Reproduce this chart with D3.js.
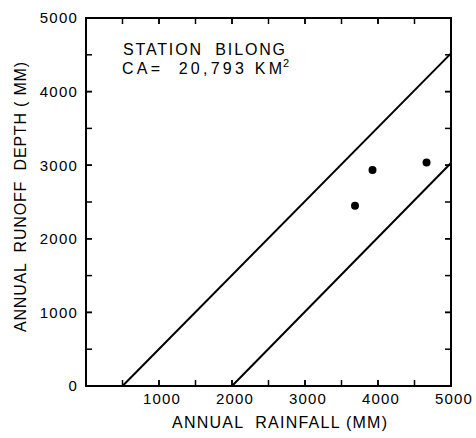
<!DOCTYPE html>
<html>
<head>
<meta charset="utf-8">
<script src="https://cdn.jsdelivr.net/npm/d3@7"></script>
<style>
  body { margin: 0; background: #fff; }
  text { font-family: "Liberation Sans", Arial, sans-serif; fill: #000; white-space: pre; }
</style>
</head>
<body>
<div id="chart"></div>
<script>
// Data
const xTicks = [1000, 2000, 3000, 4000, 5000];
const yTicks = [0, 1000, 2000, 3000, 4000, 5000];
const minorTicks = d3.range(500, 5000, 500);
const upperLine = [[500, 0], [5000, 4520]];
const lowerLine = [[2000, 0], [5000, 3030]];
const stations = [
  { rain: 3685, runoff: 2450 },
  { rain: 3925, runoff: 2935 },
  { rain: 4665, runoff: 3035 }
];
const titleLines = ["STATION  BILONG", "CA=  20,793 KM"];

const W = 476, H = 438;
const margin = { top: 18, right: 25, bottom: 52, left: 86 };
const width = W - margin.left - margin.right;
const height = H - margin.top - margin.bottom;

const svg = d3.select("#chart").append("svg")
  .attr("width", W).attr("height", H)
  .append("g")
  .attr("transform", `translate(${margin.left},${margin.top})`);

const x = d3.scaleLinear().domain([0, 5000]).range([0, width]);
const y = d3.scaleLinear().domain([0, 5000]).range([height, 0]);

// Frame
svg.append("rect")
  .attr("width", width).attr("height", height)
  .attr("fill", "none").attr("stroke", "#000").attr("stroke-width", 2);

// Inward ticks on all four sides every 500
const tickLen = 6;
const allTicks = minorTicks.concat(xTicks.slice(0, -1));
svg.append("g").selectAll("line").data(allTicks).join("line")
  .attr("x1", d => x(d)).attr("x2", d => x(d))
  .attr("y1", height).attr("y2", height - tickLen)
  .attr("stroke", "#000").attr("stroke-width", 1.5);
svg.append("g").selectAll("line").data(allTicks).join("line")
  .attr("x1", d => x(d)).attr("x2", d => x(d))
  .attr("y1", 0).attr("y2", tickLen)
  .attr("stroke", "#000").attr("stroke-width", 1.5);
svg.append("g").selectAll("line").data(allTicks).join("line")
  .attr("y1", d => y(d)).attr("y2", d => y(d))
  .attr("x1", 0).attr("x2", tickLen)
  .attr("stroke", "#000").attr("stroke-width", 1.5);
svg.append("g").selectAll("line").data(allTicks).join("line")
  .attr("y1", d => y(d)).attr("y2", d => y(d))
  .attr("x1", width).attr("x2", width - tickLen)
  .attr("stroke", "#000").attr("stroke-width", 1.5);

// Tick labels
svg.append("g").selectAll("text").data(xTicks).join("text")
  .attr("x", d => x(d) + 3).attr("y", height + 18)
  .attr("text-anchor", "middle")
  .attr("font-size", 15).attr("letter-spacing", 1.2)
  .text(d => d);
svg.append("g").selectAll("text").data(yTicks).join("text")
  .attr("x", -8).attr("y", d => y(d)).attr("dy", "0.36em")
  .attr("text-anchor", "end")
  .attr("font-size", 15).attr("letter-spacing", 1.2)
  .text(d => d);

// Axis titles
svg.append("text")
  .attr("x", 172 - margin.left).attr("y", height + 42)
  .attr("font-size", 16)
  .attr("textLength", 215).attr("lengthAdjust", "spacing")
  .text("ANNUAL  RAINFALL (MM)");
svg.append("text")
  .attr("transform", "rotate(-90)")
  .attr("x", -(332 - margin.top))
  .attr("y", 26 - margin.left)
  .attr("font-size", 16)
  .attr("textLength", 270).attr("lengthAdjust", "spacing")
  .text("ANNUAL  RUNOFF  DEPTH ( MM)");

// Envelope lines
const line = d3.line().x(d => x(d[0])).y(d => y(d[1]));
[upperLine, lowerLine].forEach(l => {
  svg.append("path").datum(l)
    .attr("d", line)
    .attr("fill", "none").attr("stroke", "#000").attr("stroke-width", 2);
});

// Observations
svg.append("g").selectAll("circle").data(stations).join("circle")
  .attr("cx", d => x(d.rain)).attr("cy", d => y(d.runoff))
  .attr("r", 4).attr("fill", "#000");

// Station annotation
const note = svg.append("text").attr("font-size", 16);
note.append("tspan").attr("x", 37).attr("y", 37)
  .attr("textLength", 162).attr("lengthAdjust", "spacing")
  .text(titleLines[0]);
note.append("tspan").attr("x", 36).attr("y", 56)
  .attr("textLength", 160).attr("lengthAdjust", "spacing")
  .text(titleLines[1]);
note.append("tspan").attr("x", 197).attr("y", 49).attr("font-size", 11).text("2");
</script>
</body>
</html>
